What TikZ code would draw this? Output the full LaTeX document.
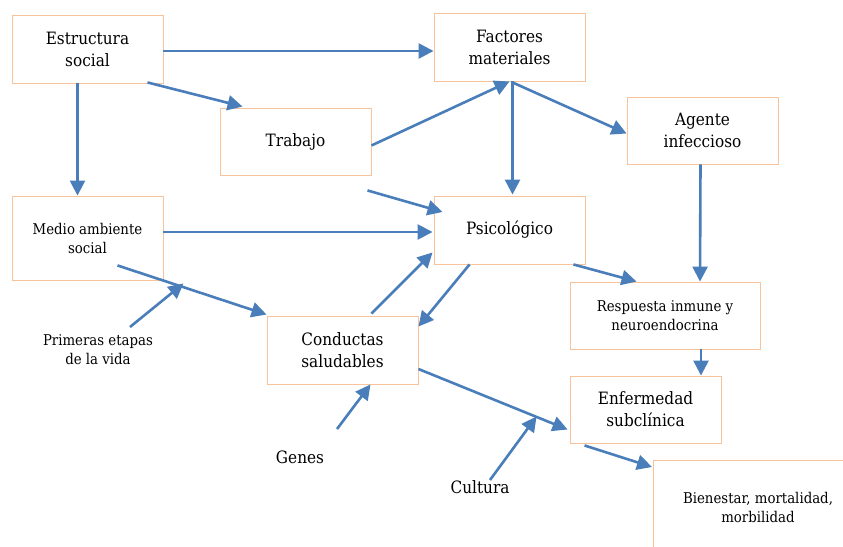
\documentclass[tikz,border=0pt]{standalone}
\usepackage{fontspec}
\setmainfont{DejaVu Serif}[FakeStretch=0.9]
\usetikzlibrary{arrows.meta,calc}
\definecolor{boxor}{HTML}{F8C39A}
\definecolor{arrbl}{HTML}{4A7EBB}
\tikzset{
  box/.style={draw=boxor,line width=0.9pt,fill=white,align=center,inner sep=0pt,
    minimum width=151pt,minimum height=68pt,font=\fontsize{17}{22}\selectfont},
  sbox/.style={box,font=\fontsize{14.8}{19}\selectfont},
  lab/.style={align=center,inner sep=0pt,font=\fontsize{14.8}{19}\selectfont},
  blab/.style={align=center,inner sep=0pt,font=\fontsize{17}{22}\selectfont},
  arr/.style={draw=arrbl,line width=2.6pt,-{Triangle[length=15pt,width=15pt]},shorten >=0pt}
}
\begin{document}
\begin{tikzpicture}[x=1pt,y=-1pt]
\useasboundingbox (0,0) rectangle (843,546);
\clip (0,0) rectangle (843,546);
\fill[white] (0,0) rectangle (843,546);
% boxes
\node[box] (es) at (87.5,49) {Estructura\\social};
\node[box] (fm) at (509.5,47) {Factores\\materiales};
\node[box,minimum height=67pt] (tr) at (295.5,141.5) {Trabajo};
\node[box,minimum height=67pt] (ag) at (702.5,130.5) {Agente\\infeccioso};
\node[sbox,minimum height=84pt] (ma) at (87.5,238) {Medio ambiente\\social};
\node[box] (ps) at (509.5,230) {Psicológico};
\node[box] (cs) at (342.5,350) {Conductas\\saludables};
\node[sbox,minimum width=190pt,minimum height=67pt] (ri) at (665,315.5) {Respuesta inmune y\\neuroendocrina};
\node[box,minimum height=67pt] (en) at (645.5,409.5) {Enfermedad\\subclínica};
\node[sbox,minimum width=210pt,minimum height=95pt,anchor=north west] (bi) at (653,460) {};
\node[lab] (bt) at (758,507) {Bienestar, mortalidad,\\morbilidad};
% free labels
\node[lab] (pe) at (98,350) {Primeras etapas\\de la vida};
\node[blab] (ge) at (300,457) {Genes};
\node[blab] (cu) at (480,487) {Cultura};
\coordinate (t1) at ($(tr.south)+(72,15)$);
% arrows
\draw[arr] ($(es.east)+(0,2)$) -- ($(fm.west)+(0,4)$);
\draw[arr] ($(es.south)+(60,-1)$) -- ($(tr.north west)+(23,-1)$);
\draw[arr] ($(es.south)+(-10,0)$) -- ($(ma.north)+(-10,0)$);
\draw[arr] ($(tr.east)+(0,4)$) -- ($(fm.south)+(0,0)$);
\draw[arr] ($(fm.south)+(3,0)$) -- ($(ps.north)+(3,-1)$);
\draw[arr] ($(fm.south)+(3,1)$) -- ($(ag.west)+(0,3)$);
\draw[arr] (t1) -- ($(ps.west)+(9,-18)$);
\draw[arr] ($(ma.east)+(0,-6)$) -- ($(ps.west)+(-1,2)$);
\draw[arr] ($(ma.south)+(30,-15)$) -- ($(cs.north west)+(0,-1)$);
\draw[arr] ($(pe.center)+(32,-23)$) -- ($(ma.south)+(96,3)$);
\draw[arr] ($(cs.north)+(29,-2)$) -- ($(ps.south west)+(-1,-12)$);
\draw[arr] ($(ps.south west)+(36,0)$) -- ($(cs.north east)+(0,11)$);
\draw[arr] ($(ps.south east)+(-12,0)$) -- ($(ri.north west)+(67,0)$);
\draw[arr] ($(ag.south)+(-2,0)$) -- ($(ri.north)+(35,0)$);
\draw[arr] ($(ri.south)+(36,0)$) -- ($(en.north)+(55.5,0)$);
\draw[arr] ($(cs.east)+(0,19)$) -- ($(en.west)+(-2,20)$);
\draw[arr] ($(ge.center)+(37,-28)$) -- ($(cs.south)+(28,0)$);
\draw[arr] ($(cu.center)+(10,-7)$) -- ($(en.west)+(-33,7)$);
\draw[arr] ($(en.south west)+(15,2)$) -- ($(bi.north west)+(-1,7)$);
\end{tikzpicture}
\end{document}
